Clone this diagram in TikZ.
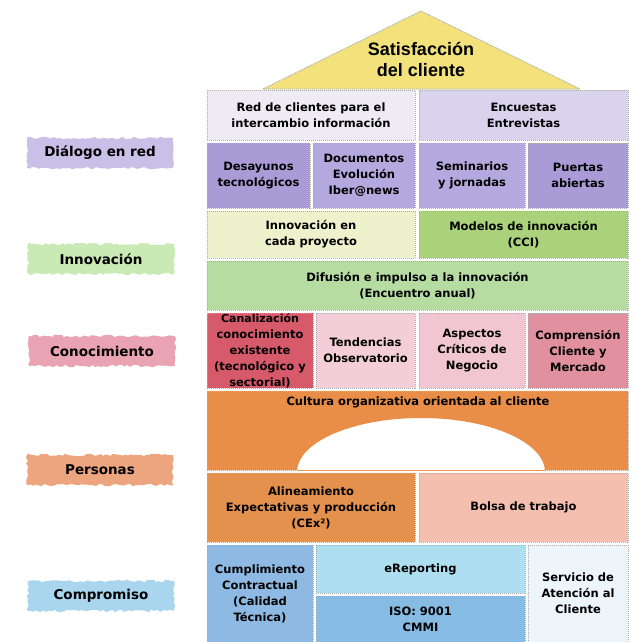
\documentclass[tikz,border=0pt]{standalone}
\usepackage{fontspec}
\setmainfont{DejaVu Sans}
\newfontfamily\rooffont{Liberation Sans}
\usetikzlibrary{decorations.pathmorphing}
\definecolor{roofY}{HTML}{F3E27C}
\definecolor{lavW}{HTML}{EEEBF4}
\definecolor{lavA}{HTML}{D9D3EE}
\definecolor{purD}{HTML}{A99BD6}
\definecolor{purM}{HTML}{B4A9DE}
\definecolor{ylwL}{HTML}{EEF2CC}
\definecolor{grnD}{HTML}{A9D27A}
\definecolor{grnM}{HTML}{B6DCA2}
\definecolor{redD}{HTML}{D65A6A}
\definecolor{pinkL}{HTML}{F3CDD8}
\definecolor{pinkL2}{HTML}{F1C6D2}
\definecolor{pinkM}{HTML}{E1909F}
\definecolor{oranD}{HTML}{E88E48}
\definecolor{oranS}{HTML}{E4914E}
\definecolor{salm}{HTML}{F4BFAE}
\definecolor{blueD}{HTML}{8DB9E2}
\definecolor{cyanL}{HTML}{AEDFF0}
\definecolor{blueM}{HTML}{86BCE4}
\definecolor{paleB}{HTML}{EEF5FA}
\definecolor{labLav}{HTML}{C9C0E8}
\definecolor{labGrn}{HTML}{C9EAB4}
\definecolor{labPnk}{HTML}{E9A3B3}
\definecolor{labOra}{HTML}{ECA57E}
\definecolor{labBlu}{HTML}{A9D5EF}
\newcommand\mkcell[7]{%
  \node[cell, fill=#6, minimum width={(#4-#2)*1pt}, minimum height={(#5-#3)*1pt}]
    (#1) at ({(#2+#4)/2},{(#3+#5)/2}) {#7};}
\begin{document}
\begin{tikzpicture}[x=1pt,y=-1pt,
  cell/.style={draw=gray!65, densely dotted, line width=1pt, inner sep=0pt, align=center,
    font=\fontsize{11.5}{16}\selectfont\bfseries},
  txt/.style={inner sep=0pt, align=center, font=\fontsize{11.5}{16}\selectfont\bfseries},
  lab/.style={inner sep=0pt, minimum width=146pt, minimum height=30pt,
    font=\fontsize{13.5}{16}\selectfont\bfseries,
    decorate, decoration={random steps, segment length=3pt, amplitude=1.3pt}}]
\useasboundingbox (0,0) rectangle (634,642);

% roof
\filldraw[fill=roofY, draw=gray!65, densely dotted, line width=1pt]
  (263,89) -- (421,11) -- (580,89) -- cycle;
\node[inner sep=0pt, align=center, font=\rooffont\fontsize{18}{21}\selectfont\bfseries]
  (roof) at (421,59) {Satisfacción\\del cliente};

% row 1
\mkcell{redcli}{207}{90}{415}{140}{lavW}{Red de clientes para el\\intercambio información}
\mkcell{encu}{419}{90}{628}{140}{lavA}{Encuestas\\Entrevistas}
% row 2
\mkcell{desa}{207}{143}{310}{208}{purD}{Desayunos\\tecnológicos}
\mkcell{docu}{313}{143}{415}{208}{purM}{Documentos\\Evolución\\Iber@news}
\mkcell{semi}{419}{143}{525}{208}{purM}{Seminarios\\y jornadas}
\mkcell{puer}{528}{143}{628}{208}{purD}{Puertas\\abiertas}
% row 3
\mkcell{innp}{207}{211}{415}{258}{ylwL}{Innovación en\\cada proyecto}
\mkcell{mode}{419}{211}{628}{258}{grnD}{Modelos de innovación\\(CCI)}
% row 4
\mkcell{difu}{207}{261}{628}{310}{grnM}{Difusión e impulso a la innovación\\(Encuentro anual)}
% row 5
\mkcell{cana}{207}{313}{313}{388}{redD}{\fontsize{11}{14.4}\selectfont Canalización\\conocimiento\\existente\\(tecnológico y\\sectorial)}
\mkcell{tend}{316}{313}{415}{388}{pinkL}{Tendencias\\Observatorio}
\mkcell{aspe}{419}{313}{525}{388}{pinkL2}{Aspectos\\Críticos de\\Negocio}
\mkcell{comp}{528}{313}{628}{388}{pinkM}{Comprensión\\Cliente y\\Mercado}
% row 6 arch
\begin{scope}
  \clip (207,391) rectangle (628,470);
  \fill[oranD, even odd rule] (207,391) rectangle (628,470)
    (421,472) ellipse [x radius=124pt, y radius=54pt];
\end{scope}
\node[cell, minimum width=421pt, minimum height=79pt] (cult) at (417.5,430.5) {};
\node[txt] (cultT) at (418,402) {Cultura organizativa orientada al cliente};
% row 7
\mkcell{aline}{207}{473}{415}{542}{oranS}{Alineamiento\\Expectativas y producción\\(CEx²)}
\mkcell{bols}{419}{473}{628}{542}{salm}{Bolsa de trabajo}
% row 8
\mkcell{cump}{207}{545}{313}{642}{blueD}{Cumplimiento\\Contractual\\(Calidad\\Técnica)}
\mkcell{erep}{316}{545}{525}{593}{cyanL}{eReporting}
\mkcell{iso}{316}{596}{525}{642}{blueM}{ISO: 9001\\CMMI}
\mkcell{serv}{528}{545}{628}{642}{paleB}{Servicio de\\Atención al\\Cliente}

% left labels
\node[lab, fill=labLav] (ldia) at (100,153) {Diálogo en red};
\node[lab, fill=labGrn] (linn) at (101,259) {Innovación};
\node[lab, fill=labPnk] (lcon) at (102,351) {Conocimiento};
\node[lab, fill=labOra] (lper) at (100,470) {Personas};
\node[lab, fill=labBlu] (lcom) at (101,596) {Compromiso};
\end{tikzpicture}
\end{document}
